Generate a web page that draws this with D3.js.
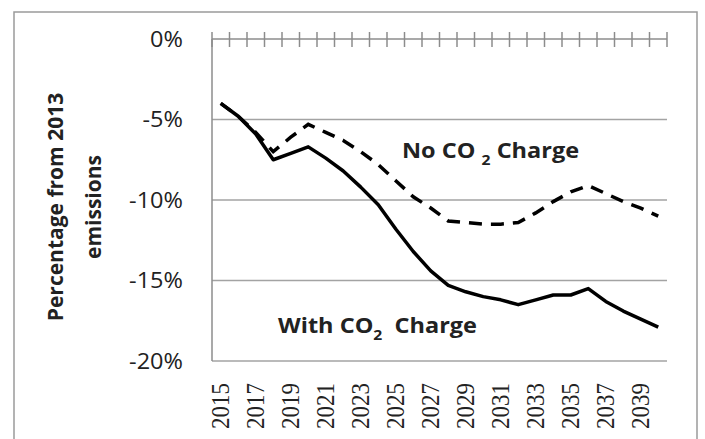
<!DOCTYPE html>
<html>
<head>
<meta charset="utf-8">
<script src="https://cdn.jsdelivr.net/npm/d3@7"></script>
<style>
  html, body { margin: 0; padding: 0; background: #fff; }
  svg { display: block; }
  .serif { font-family: "Liberation Serif", "Times New Roman", "DejaVu Serif", serif; }
</style>
</head>
<body>
<div id="chart"></div>
<script>
// Years on the category axis
const years = d3.range(2015, 2041).map(String);

// Percentage change from 2013 emissions
const withCharge = [-4.0, -4.8, -5.9, -7.5, -7.1, -6.7, -7.4, -8.2, -9.2, -10.3,
  -11.8, -13.2, -14.4, -15.3, -15.7, -16.0, -16.2, -16.5, -16.2, -15.9,
  -15.9, -15.5, -16.3, -16.9, -17.4, -17.9];
const noCharge = [-4.0, -4.8, -5.8, -7.0, -6.1, -5.3, -5.8, -6.3, -7.0, -7.8,
  -8.8, -9.8, -10.5, -11.3, -11.4, -11.5, -11.5, -11.4, -10.8, -10.1,
  -9.5, -9.1, -9.6, -10.1, -10.5, -11.0];

// Tick labels
const yTicks = [0, -5, -10, -15, -20];
const xLabels = years.filter((d, i) => i % 2 === 0);

const width = 705, height = 439;
const plot = { left: 212, right: 667, top: 39, bottom: 361 };

const svg = d3.select("#chart").append("svg")
  .attr("width", width)
  .attr("height", height);

// Outer chart border (runs off the bottom of the picture)
svg.append("rect")
  .attr("x", 14).attr("y", 12)
  .attr("width", 683).attr("height", 440)
  .attr("fill", "none")
  .attr("stroke", "#9a9a9a")
  .attr("stroke-width", 1.5);

const x = d3.scaleBand()
  .domain(years)
  .range([plot.left, plot.right]);

const y = d3.scaleLinear()
  .domain([0, -20])
  .range([plot.top, plot.bottom]);

// Gridlines
svg.append("g")
  .selectAll("line")
  .data(yTicks.filter(d => d !== 0))
  .join("line")
  .attr("x1", plot.left).attr("x2", plot.right)
  .attr("y1", d => y(d)).attr("y2", d => y(d))
  .attr("stroke", "#a3a3a3")
  .attr("stroke-width", 1.5);

// Left axis line
svg.append("line")
  .attr("x1", plot.left).attr("x2", plot.left)
  .attr("y1", plot.top).attr("y2", plot.bottom)
  .attr("stroke", "#8c8c8c")
  .attr("stroke-width", 1.5);

// Y tick labels
svg.append("g")
  .selectAll("text")
  .data(yTicks)
  .join("text")
  .attr("transform", d => `translate(183,${y(d)}) scale(1.12,1)`)
  .attr("text-anchor", "end")
  .attr("dy", "0.36em")
  .style("font-family", "'Open Sans', sans-serif")
  .style("font-size", "21px")
  .style("fill", "#222")
  .text(d => d + "%");

// Category axis sits at 0% with cross tick marks between categories
svg.append("line")
  .attr("x1", plot.left).attr("x2", plot.right)
  .attr("y1", y(0)).attr("y2", y(0))
  .attr("stroke", "#8c8c8c")
  .attr("stroke-width", 1.5);

const boundaries = years.map(d => x(d)).concat([x(years[years.length - 1]) + x.bandwidth()]);
svg.append("g")
  .selectAll("line")
  .data(boundaries)
  .join("line")
  .attr("x1", d => d).attr("x2", d => d)
  .attr("y1", y(0) - 7).attr("y2", y(0) + 8)
  .attr("stroke", "#8c8c8c")
  .attr("stroke-width", 1.5);

// Rotated year labels below the plot
svg.append("g")
  .selectAll("text")
  .data(xLabels)
  .join("text")
  .attr("class", "serif")
  .attr("transform", d => `translate(${x(d) + x.bandwidth() / 2},383) rotate(-90) scale(1,1.1)`)
  .attr("text-anchor", "end")
  .attr("dy", "0.34em")
  .style("font-size", "23px")
  .style("fill", "#222")
  .text(d => d);

// Lines
const line = d3.line()
  .x((d, i) => x(years[i]) + x.bandwidth() / 2)
  .y(d => y(d));

svg.append("path")
  .datum(noCharge)
  .attr("d", line)
  .attr("fill", "none")
  .attr("stroke", "#000")
  .attr("stroke-width", 3.5)
  .attr("stroke-dasharray", "13,9");

svg.append("path")
  .datum(withCharge)
  .attr("d", line)
  .attr("fill", "none")
  .attr("stroke", "#000")
  .attr("stroke-width", 3.5)
  .attr("stroke-linejoin", "round");

// Y axis title
const title = svg.append("text")
  .attr("transform", "translate(0,207) rotate(-90)")
  .attr("text-anchor", "middle")
  .style("font-family", "'Open Sans', sans-serif")
  .style("font-size", "21px")
  .style("font-weight", "bold")
  .style("fill", "#222");
title.append("tspan").attr("x", 0).attr("y", 63).text("Percentage from 2013");
title.append("tspan").attr("x", 0).attr("y", 101).text("emissions");

// Series annotations with subscript 2
function annotate(px, py, before, after) {
  const t = svg.append("text")
    .attr("transform", `translate(${px},${py}) scale(1.12,1)`)
    .style("font-family", "'Open Sans', sans-serif")
    .style("font-size", "21px")
    .style("font-weight", "bold")
    .style("fill", "#222")
    .attr("xml:space", "preserve");
  t.append("tspan").text(before);
  t.append("tspan").attr("dy", 7).style("font-size", "14px").text("2");
  t.append("tspan").attr("dy", -7).text(after);
}
annotate(402, 158, "No CO ", " Charge");
annotate(278, 333, "With CO", "  Charge");
</script>
</body>
</html>
